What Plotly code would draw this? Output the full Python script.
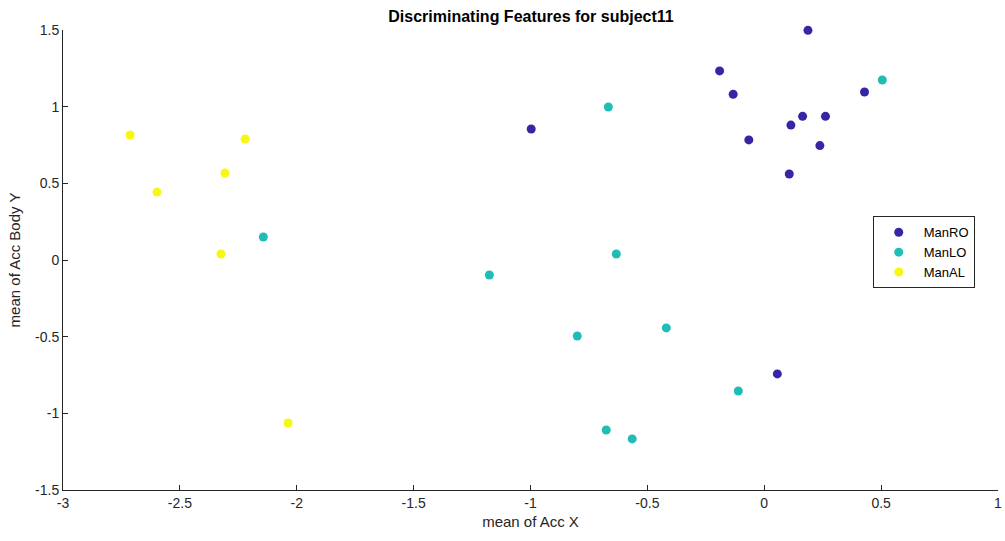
import plotly.graph_objects as go

man_ro_x = [0.187, -0.191, -0.133, 0.429, 0.164, 0.262, 0.114, -0.066, 0.238, 0.107, -0.997, 0.056]
man_ro_y = [1.498, 1.233, 1.081, 1.096, 0.937, 0.937, 0.880, 0.783, 0.746, 0.561, 0.854, -0.743]

man_lo_x = [0.505, -0.667, -2.143, -1.176, -0.633, -0.800, -0.419, -0.111, -0.676, -0.565]
man_lo_y = [1.174, 0.998, 0.150, -0.098, 0.039, -0.496, -0.443, -0.854, -1.109, -1.167]

man_al_x = [-2.713, -2.221, -2.598, -2.307, -2.324, -2.037]
man_al_y = [0.815, 0.789, 0.443, 0.567, 0.039, -1.063]

x_ticks = [-3, -2.5, -2, -1.5, -1, -0.5, 0, 0.5, 1]
x_labels = ["-3", "-2.5", "-2", "-1.5", "-1", "-0.5", "0", "0.5", "1"]
y_ticks = [-1.5, -1, -0.5, 0, 0.5, 1, 1.5]
y_labels = ["-1.5", "-1", "-0.5", "0", "0.5", "1", "1.5"]

series = [
    ("ManRO", man_ro_x, man_ro_y, "#3526A5"),
    ("ManLO", man_lo_x, man_lo_y, "#1FBDB6"),
    ("ManAL", man_al_x, man_al_y, "#F6F812"),
]

fig = go.Figure()
for name, xs, ys, col in series:
    fig.add_trace(go.Scatter(x=xs, y=ys, mode="markers", name=name, cliponaxis=False,
                             marker=dict(size=9, color=col, line=dict(width=0))))

axis_common = dict(showgrid=False, zeroline=False, showline=True, linecolor="#262626",
                   linewidth=1, ticks="inside", ticklen=5, tickcolor="#262626",
                   tickfont=dict(family="Arial, Liberation Sans", size=14, color="#262626"),
                   mirror=False, automargin=False, ticklabeloverflow="allow")

W = 1005
H = 541
fig.update_layout(
    width=W, height=H,
    margin=dict(l=63, r=7, t=30, b=51),
    paper_bgcolor="white", plot_bgcolor="white",
    title=dict(text="<b>Discriminating Features for subject11</b>", x=531 / W, xanchor="center",
               y=1 - 16 / H, yanchor="middle",
               font=dict(family="Arial, Liberation Sans", size=16, color="black")),
    xaxis=dict(range=[-3, 1], tickvals=x_ticks, ticktext=x_labels,
               title=dict(text="mean of Acc X", standoff=6,
                          font=dict(family="Arial, Liberation Sans", size=15, color="#262626")),
               **axis_common),
    yaxis=dict(range=[-1.5, 1.5], tickvals=y_ticks, ticktext=y_labels,
               title=dict(text="mean of Acc Body Y", standoff=10,
                          font=dict(family="Arial, Liberation Sans", size=15, color="#262626")),
               **axis_common),
    legend=dict(x=0.866, y=0.595, xanchor="left", yanchor="top",
                bgcolor="white", bordercolor="#262626", borderwidth=1,
                font=dict(family="Arial, Liberation Sans", size=13, color="black"),
                itemwidth=40, tracegroupgap=0),
    showlegend=True,
)

fig.write_html("out.html", default_width=f"{W}px", default_height=f"{H}px",
               config={"displayModeBar": False},
               post_script="document.body.style.margin='0';document.body.style.overflow='hidden';")
